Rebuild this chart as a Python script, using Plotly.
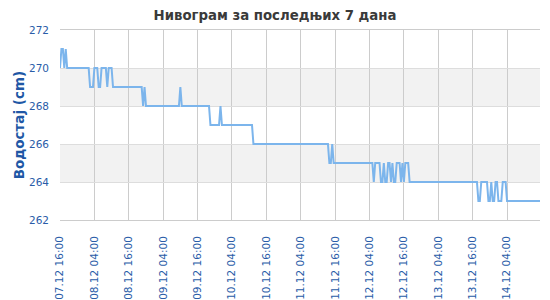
import plotly.graph_objects as go
import pandas as pd

chart_title = "Нивограм за последњих 7 дана"
y_title = "Водостај (cm)"
start_time = "2024-12-07 16:00"
step = "30min"

# water level (cm), one row per 12 hours, 30-minute readings
levels = [
    270, 271, 271, 270, 271, 270, 270, 270, 270, 270, 270, 270, 270, 270, 270, 270, 270, 270, 270, 270, 270, 269, 269, 269,
    270, 270, 270, 269, 269, 270, 270, 270, 270, 269, 270, 270, 270, 269, 269, 269, 269, 269, 269, 269, 269, 269, 269, 269,
    269, 269, 269, 269, 269, 269, 269, 269, 269, 269, 268, 269, 268, 268, 268, 268, 268, 268, 268, 268, 268, 268, 268, 268,
    268, 268, 268, 268, 268, 268, 268, 268, 268, 268, 268, 268, 269, 268, 268, 268, 268, 268, 268, 268, 268, 268, 268, 268,
    268, 268, 268, 268, 268, 268, 268, 268, 268, 267, 267, 267, 267, 267, 267, 267, 268, 267, 267, 267, 267, 267, 267, 267,
    267, 267, 267, 267, 267, 267, 267, 267, 267, 267, 267, 267, 267, 267, 267, 266, 266, 266, 266, 266, 266, 266, 266, 266,
    266, 266, 266, 266, 266, 266, 266, 266, 266, 266, 266, 266, 266, 266, 266, 266, 266, 266, 266, 266, 266, 266, 266, 266,
    266, 266, 266, 266, 266, 266, 266, 266, 266, 266, 266, 266, 266, 266, 266, 266, 266, 266, 266, 266, 265, 265, 266, 265,
    265, 265, 265, 265, 265, 265, 265, 265, 265, 265, 265, 265, 265, 265, 265, 265, 265, 265, 265, 265, 265, 265, 265, 265,
    265, 265, 265, 264, 265, 265, 265, 265, 264, 264, 265, 264, 264, 265, 265, 264, 265, 264, 264, 265, 265, 265, 264, 265,
    264, 265, 265, 265, 264, 264, 264, 264, 264, 264, 264, 264, 264, 264, 264, 264, 264, 264, 264, 264, 264, 264, 264, 264,
    264, 264, 264, 264, 264, 264, 264, 264, 264, 264, 264, 264, 264, 264, 264, 264, 264, 264, 264, 264, 264, 264, 264, 264,
    264, 264, 264, 264, 263, 263, 264, 264, 264, 264, 264, 263, 263, 264, 263, 263, 264, 264, 263, 263, 263, 264, 264, 264,
    263, 263, 263, 263, 263, 263, 263, 263, 263, 263, 263, 263, 263, 263, 263, 263, 263, 263, 263, 263, 263, 263, 263, 263,
]
y_min, y_max, y_step = 262, 272, 2
shaded_bands = [(264, 266), (268, 270)]

times = pd.date_range(start_time, periods=len(levels), freq=step)

label_blue = "#2a5ca8"
font_family = "DejaVu Sans"

fig = go.Figure(
    go.Scatter(
        x=times, y=levels, mode="lines",
        line=dict(color="#7cb5ec", width=2),
        hoverinfo="skip",
    )
)

for lo, hi in shaded_bands:
    fig.add_hrect(y0=lo, y1=hi, fillcolor="#f2f2f2", line_width=0, layer="below")

fig.update_layout(
    width=550, height=300,
    margin=dict(l=60, r=10, t=30, b=80),
    paper_bgcolor="white", plot_bgcolor="white",
    showlegend=False,
    font=dict(family=font_family),
    title=dict(
        text="<b>" + chart_title + "</b>",
        x=0.5, xref="container", xanchor="center",
        y=0.95, yref="container", yanchor="middle",
        font=dict(family=font_family, size=13.3, color="#3a3a3a"),
    ),
    xaxis=dict(
        range=[times[0], times[-1]],
        tick0=start_time, dtick=12 * 3600 * 1000,
        tickformat="%d.%m %H:%M", tickangle=-90,
        tickfont=dict(family=font_family, size=10.5, color=label_blue),
        showgrid=True, gridcolor="#cccccc", gridwidth=1,
        showline=True, linecolor="#cccccc", linewidth=1, mirror=True,
        zeroline=False, ticks="", ticklabelstandoff=11,
        automargin=False,
    ),
    yaxis=dict(
        range=[y_min, y_max], dtick=y_step, tick0=y_min,
        tickfont=dict(family=font_family, size=10.5, color=label_blue),
        showgrid=True, gridcolor="#dddddd", gridwidth=1,
        showline=False, zeroline=False, ticks="", ticklabelstandoff=10,
        automargin=False,
        title=dict(
            text="<b>" + y_title + "</b>",
            font=dict(family=font_family, size=13.5, color="#2057a5"),
            standoff=1,
        ),
    ),
)

fig.write_html("out.html")
